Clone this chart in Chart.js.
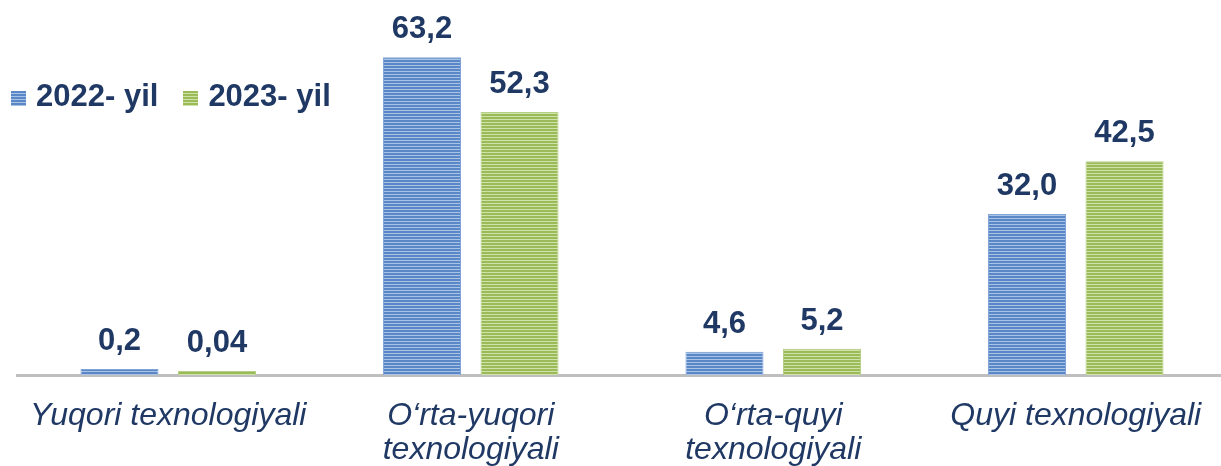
<!DOCTYPE html>
<html>
<head>
<meta charset="utf-8">
<script src="https://cdn.jsdelivr.net/npm/chart.js@4.4.1/dist/chart.umd.min.js"></script>
<style>
  html, body { margin:0; padding:0; background:#fff; overflow:hidden; }
  #wrap { position:relative; width:1227px; height:466px; }
  #legend { position:absolute; left:11px; top:78px; display:flex; align-items:center;
    font:bold 31px "Liberation Sans", Arial, sans-serif; color:#1f3864; }
  #legend .item { display:flex; align-items:center; margin-right:25px; }
  #legend .box { width:15px; height:15px; margin-right:10px; margin-top:4px; }
</style>
</head>
<body>
<div id="wrap">
  <canvas id="chart" width="1227" height="466"></canvas>
  <div id="legend"></div>
</div>
<script>
/* ── data ───────────────────────────── */
const categories = [
  'Yuqori texnologiyali',
  ['O\u2018rta-yuqori', 'texnologiyali'],
  ['O\u2018rta-quyi', 'texnologiyali'],
  'Quyi texnologiyali'
];
const seriesNames = ['2022- yil', '2023- yil'];
const values2022  = [0.2, 63.2, 4.6, 32.0];
const values2023  = [0.04, 52.3, 5.2, 42.5];

const NAVY = '#1f3864';

// striped fill like the original (dark band + light band)
function stripes(dark, light) {
  const c = document.createElement('canvas');
  c.width = 4; c.height = 3;
  const g = c.getContext('2d');
  g.fillStyle = dark;  g.fillRect(0, 0, 4, 2);
  g.fillStyle = light; g.fillRect(0, 2, 4, 1);
  return g.createPattern(c, 'repeat');
}
const blueFill  = stripes('#5a87c6', '#a9c3e6');
const greenFill = stripes('#9bbb59', '#d0e2aa');

const fmt = v => v.toFixed(v < 0.1 ? 2 : 1).replace('.', ',');

const barLabels = {
  id: 'barLabels',
  afterDatasetsDraw(chart) {
    const ctx = chart.ctx;
    ctx.save();
    ctx.font = 'bold 31px "Liberation Sans", Arial, sans-serif';
    ctx.fillStyle = NAVY;
    ctx.textAlign = 'center';
    ctx.textBaseline = 'alphabetic';
    chart.data.datasets.forEach((ds, i) => {
      chart.getDatasetMeta(i).data.forEach((bar, j) => {
        ctx.fillText(fmt(ds.data[j]), bar.x, bar.y - 19);
      });
    });
    ctx.restore();
  }
};

const chart = new Chart(document.getElementById('chart'), {
  type: 'bar',
  data: {
    labels: categories,
    datasets: [
      { label: seriesNames[0], data: values2022, backgroundColor: blueFill,
        borderColor: '#7fa3d6', borderWidth: 1, minBarLength: 6 },
      { label: seriesNames[1], data: values2023, backgroundColor: greenFill,
        borderColor: '#b5cf85', borderWidth: 1, minBarLength: 4 }
    ]
  },
  options: {
    responsive: false,
    animation: false,
    categoryPercentage: 0.645,
    barPercentage: 0.8,
    layout: { padding: { left: 17, right: 0, top: 23, bottom: 0 } },
    scales: {
      x: {
        grid: { display: false },
        border: { display: true, color: '#bfbfbf', width: 3 },
        ticks: { color: NAVY, padding: 16, maxRotation: 0, autoSkip: false,
          font: { family: '"Liberation Sans", Arial, sans-serif', size: 32, style: 'italic', lineHeight: 1.07 } },
        afterFit(scale) { scale.height = 91; }
      },
      y: { display: false, min: 0, max: 70 }
    },
    plugins: { legend: { display: false }, tooltip: { enabled: false } }
  },
  plugins: [barLabels]
});

// legend built from the datasets
document.getElementById('legend').innerHTML = chart.data.datasets.map((ds, i) => {
  const bg = i === 0
    ? 'repeating-linear-gradient(#5a87c6 0 2px, #a9c3e6 2px 3px)'
    : 'repeating-linear-gradient(#9bbb59 0 2px, #d0e2aa 2px 3px)';
  return `<div class="item"><span class="box" style="background:${bg}"></span>${ds.label}</div>`;
}).join('');
</script>
</body>
</html>
